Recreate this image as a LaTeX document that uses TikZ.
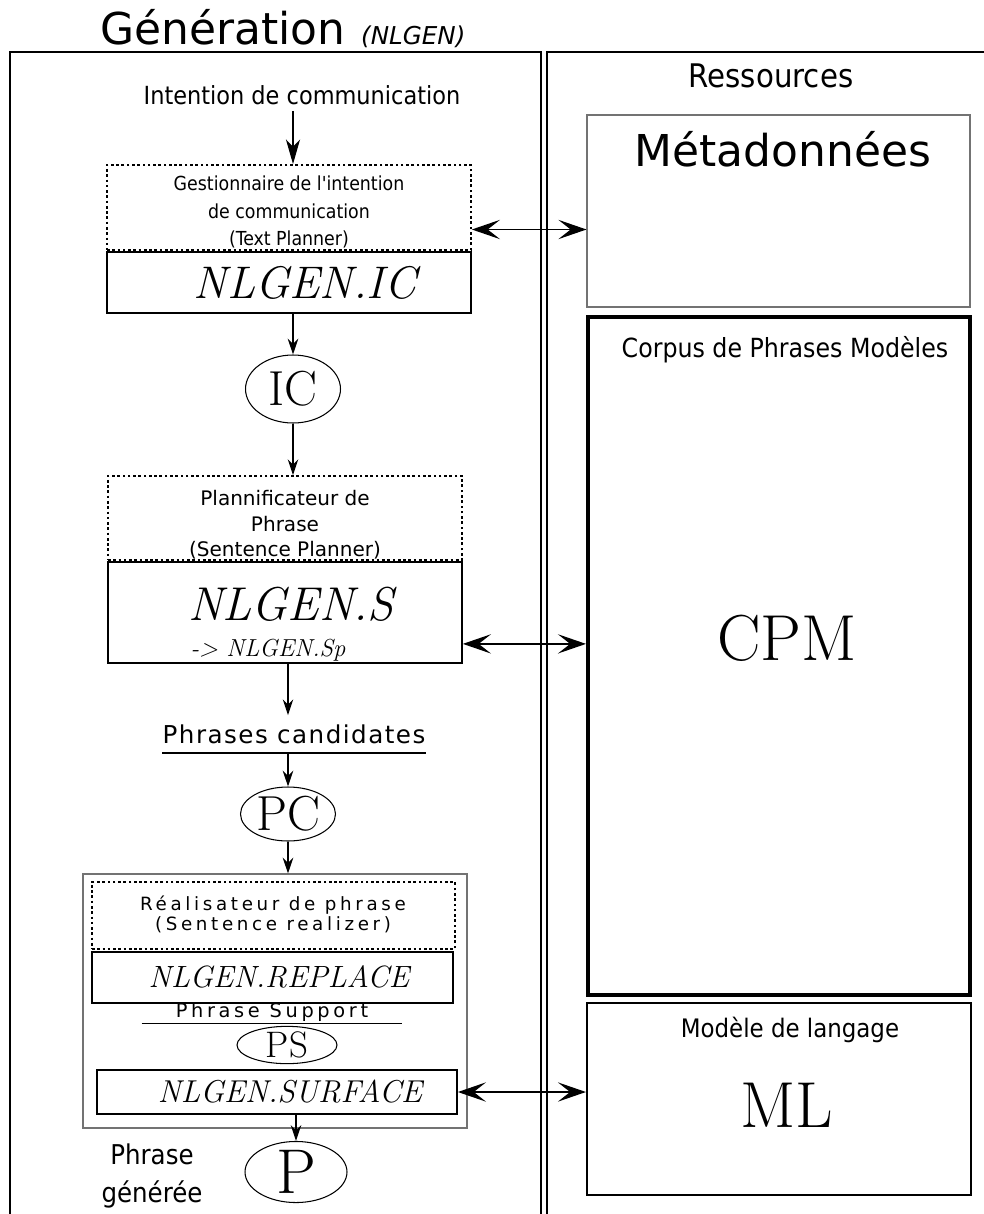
\documentclass[tikz,border=0pt]{standalone}
\usepackage{fontspec}
\setmainfont{DejaVu Sans}
\newfontfamily\condfont{DejaVu Sans Condensed}
\newfontfamily\serif{Latin Modern Roman}
\usetikzlibrary{arrows.meta, fit, shapes.geometric}

\begin{document}
\begin{tikzpicture}[x=0.02cm, y=-0.02cm,
    frame/.style={draw, line width=1.1pt, inner sep=0pt},
    solidbox/.style={draw, line width=1pt, inner sep=0pt},
    dotbox/.style={draw, line width=1pt, dash pattern=on 1.5pt off 1.5pt, inner sep=0pt},
    greybox/.style={draw=black!55, line width=0.6pt, inner sep=0pt},
    oval/.style={draw, ellipse, line width=0.6pt, inner sep=0pt},
    arr/.style={-{Stealth[length=9pt, width=6pt, inset=3pt]}, line width=0.7pt},
    dbl/.style={{Stealth[length=16pt, width=11pt, inset=7pt]}-{Stealth[length=16pt, width=11pt, inset=7pt]}, line width=0.7pt}]
        \clip (0,0) rectangle (984,1214);

        \node[anchor=base west, inner sep=0pt] (title) at (100,44)
            {{\fontsize{25}{28}\selectfont Génération}\hspace{0.9em}{\fontsize{14}{15}\selectfont\itshape (NLGEN)}};
        \node[frame, fit={(10,52) (541,1240)}] (gen) {};
        \node[frame, fit={(547,52) (1000,1240)}] (res) {};

        \node[font=\condfont\fontsize{14.2}{16}\selectfont] (intent) at (302,95) {Intention de communication};
        \node[dotbox, fit={(107,165) (471,250)}] (gic) {};
        \node[align=center, font=\condfont\fontsize{11}{15.6}\selectfont] (gictext) at (289,212)
            {Gestionnaire de l'intention\\de communication\\(Text Planner)};
        \node[solidbox, fit={(107,252) (471,313)}] (nlgenic) {};
        \node[font=\serif\itshape\fontsize{26}{28}\selectfont] (nlgenictext) at (305,283) {NLGEN.IC};
        \node[oval, minimum width=1.9cm, minimum height=1.36cm] (ic) at (293,389) {\serif\fontsize{28}{30}\selectfont IC};

        \node[dotbox, fit={(108,476) (462,560)}] (plan) {};
        \node[align=center, font=\fontsize{11.4}{14.5}\selectfont] (plantext) at (285,525)
            {Plannificateur de\\Phrase\\(Sentence Planner)};
        \node[solidbox, fit={(108,562) (462,663)}] (nlgens) {};
        \node[font=\serif\itshape\fontsize{27}{29}\selectfont] (nlgenstext) at (291,604) {NLGEN.S};
        \node[font=\serif\itshape\fontsize{14}{16}\selectfont] (sptext) at (268,650) {-> NLGEN.Sp};

        \node[minimum width=5.24cm, minimum height=0.74cm, inner sep=0pt,
            font=\addfontfeature{LetterSpace=6}\fontsize{14}{15}\selectfont] (cand) at (294,734) {Phrases candidates};
        \node[oval, minimum width=1.9cm, minimum height=1.08cm] (pc) at (288,814) {\serif\fontsize{28}{30}\selectfont PC};

        \node[greybox, fit={(83,874) (467,1128)}] (grp) {};
        \node[dotbox, fit={(92,882) (455,949)}] (real) {};
        \node[align=center, font=\addfontfeature{LetterSpace=20}\fontsize{10.4}{11.5}\selectfont] (realtext) at (273,914)
            {Réalisateur de phrase\\(Sentence realizer)};
        \node[solidbox, fit={(92,952) (453,1003)}] (replace) {};
        \node[font=\serif\itshape\fontsize{17.5}{19}\selectfont] (replacetext) at (279,977) {NLGEN.REPLACE};
        \node[minimum width=5.2cm, minimum height=0.44cm, inner sep=0pt,
            font=\addfontfeature{LetterSpace=19}\fontsize{11}{12}\selectfont] (sup) at (272,1012) {Phrase Support};
        \node[oval, minimum width=2cm, minimum height=0.68cm] (ps) at (287,1045) {\serif\fontsize{21}{23}\selectfont PS};
        \node[solidbox, fit={(97,1070) (457,1114)}] (surf) {};
        \node[font=\serif\itshape\fontsize{18}{20}\selectfont] (surftext) at (290,1092) {NLGEN.SURFACE};
        \node[oval, minimum width=2.04cm, minimum height=1.18cm] (p) at (296,1172) {\serif\fontsize{36}{38}\selectfont P};
        \node[align=center, font=\condfont\fontsize{15.5}{22}\selectfont] (gentext) at (152,1176) {Phrase\\générée};

        \node[font=\condfont\fontsize{18.5}{20}\selectfont] (restext) at (771,76) {Ressources};
        \node[greybox, fit={(587,115) (970,307)}] (meta) {};
        \node[anchor=base, font=\fontsize{25}{27}\selectfont] (metatext) at (783,166) {Métadonnées};
        \node[draw, line width=2.3pt, inner sep=0pt, fit={(588,317) (970,995)}] (cpm) {};
        \node[font=\condfont\fontsize{15}{17}\selectfont] (cpmtitle) at (785,350) {Corpus de Phrases Modèles};
        \node[anchor=base, font=\serif\fontsize{37}{39}\selectfont] (cpmtext) at (787,660) {CPM};
        \node[draw, line width=1.2pt, inner sep=0pt, fit={(587,1003) (971,1195)}] (ml) {};
        \node[font=\condfont\fontsize{14.5}{16}\selectfont] (mltitle) at (790,1030) {Modèle de langage};
        \node[anchor=base, font=\serif\fontsize{37}{39}\selectfont] (mltext) at (787,1127) {ML};

        \draw[line width=0.8pt] (cand.south west) -- (cand.south east);
        \draw[line width=0.8pt] (sup.south west) -- (sup.south east);

        \draw[line width=1pt, -{Stealth[length=14pt, width=8pt, inset=4pt]}] (intent.south -| ic) -- (gic.north -| ic);
        \draw[arr] (nlgenic.south -| ic) -- (ic);
        \draw[arr] (ic) -- (plan.north -| ic);
        \draw[arr] (nlgens.south -| pc) -- (cand.north -| pc);
        \draw[arr] (cand.south -| pc) -- (pc);
        \draw[arr] (pc) -- (grp.north -| pc);
        \draw[arr] (surf.south -| p) -- (p);

        \draw[dbl] ([yshift=-0.44cm]gic.east) -- ([yshift=-0.44cm]gic.east -| meta.west);
        \draw[dbl] ([yshift=0.4cm]nlgens.south east) -- ([yshift=0.4cm]nlgens.south east -| cpm.west);
        \draw[dbl] (surf.east) -- (surf.east -| ml.west);
\end{tikzpicture}
\end{document}
